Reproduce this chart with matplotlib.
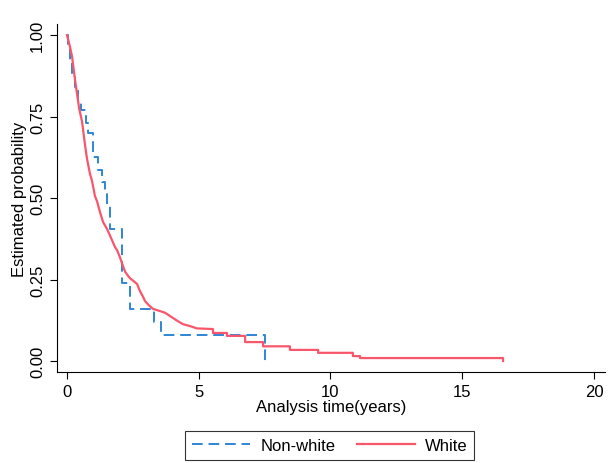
import matplotlib
matplotlib.use('Agg')
import matplotlib.pyplot as plt

plt.rcParams['font.family'] = ['Liberation Sans', 'DejaVu Sans']

# Kaplan-Meier curves (time in years, survival)
nonwhite_t = [0.00, 0.05, 0.11, 0.19, 0.30, 0.42, 0.53, 0.72, 0.80, 0.99, 1.18, 1.33,
              1.44, 1.52, 1.62, 2.09, 2.39, 3.30, 3.57, 7.51]
nonwhite_s = [1.00, 0.96, 0.92, 0.88, 0.84, 0.80, 0.77, 0.73, 0.70, 0.625, 0.585, 0.55,
              0.52, 0.475, 0.405, 0.24, 0.16, 0.12, 0.08, 0.00]

# white group: dense early part traced as a curve, tail corners listed
white_t = [0.00, 0.11, 0.19, 0.30, 0.38, 0.46, 0.57, 0.68, 0.76, 0.87, 0.95, 1.06,
           1.14, 1.25, 1.37, 1.52, 1.63, 1.82, 1.90, 2.01, 2.13, 2.20, 2.28, 2.39,
           2.50, 2.66, 2.77, 2.88, 2.96, 3.07, 3.15, 3.26, 3.53, 3.72, 3.91, 4.17,
           4.40, 4.67, 4.93, 5.54, 5.54, 6.07, 6.07, 6.76, 6.76, 7.44, 7.44, 8.46,
           8.46, 9.53, 9.53, 10.85, 10.85, 11.12, 11.12, 16.55, 16.55]
white_s = [1.000, 0.965, 0.935, 0.865, 0.820, 0.775, 0.735, 0.665, 0.620, 0.575, 0.552, 0.506,
           0.490, 0.457, 0.426, 0.405, 0.385, 0.350, 0.340, 0.318, 0.290, 0.275, 0.265, 0.254,
           0.247, 0.236, 0.214, 0.198, 0.184, 0.174, 0.168, 0.160, 0.153, 0.148, 0.138, 0.124,
           0.113, 0.107, 0.100, 0.098, 0.086, 0.086, 0.077, 0.077, 0.058, 0.058, 0.045, 0.045,
           0.034, 0.034, 0.025, 0.025, 0.015, 0.015, 0.009, 0.009, 0.000]

x_ticks = [0, 5, 10, 15, 20]
y_ticks = [0.00, 0.25, 0.50, 0.75, 1.00]

blue = '#2f86d5'
red = '#f9566b'

fig = plt.figure(figsize=(6.13, 4.64), dpi=100)
ax = fig.add_axes([0.093, 0.196, 0.894, 0.750])

ax.step(nonwhite_t, nonwhite_s, where='post', color=blue, lw=1.4,
        linestyle=(0, (5.5, 3)), label='Non-white')
ax.plot(white_t, white_s, color=red, lw=1.6, label='White')

ax.set_xlim(-0.38, 20.42)
ax.set_ylim(-0.034, 1.034)
ax.set_xticks(x_ticks)
ax.set_yticks(y_ticks)
ax.set_yticklabels(['%.2f' % v for v in y_ticks], rotation=90, va='center')
ax.tick_params(labelsize=12, length=5, width=0.8)

for s in ['top', 'right']:
    ax.spines[s].set_visible(False)

ax.set_xlabel('Analysis time(years)', fontsize=12, labelpad=0)
ax.set_ylabel('Estimated probability', fontsize=12, labelpad=2)

leg = fig.legend(loc='center', bbox_to_anchor=(0.538, 0.038), ncol=2, fontsize=12,
                 frameon=True, fancybox=False, handlelength=3.5, columnspacing=1.3,
                 borderpad=0.4, handletextpad=0.6)
leg.get_frame().set_edgecolor('black')
leg.get_frame().set_linewidth(0.8)

fig.savefig('out.png', dpi=100)
